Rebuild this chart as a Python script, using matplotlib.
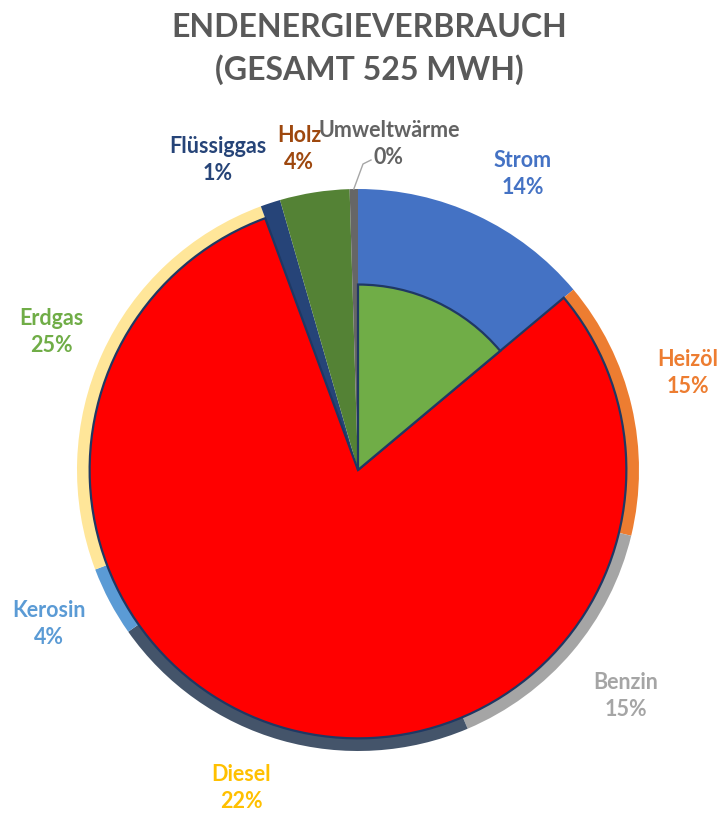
import numpy as np
import matplotlib.pyplot as plt

# Endenergieverbrauch in MWh (gesamt 525)
labels = ["Strom", "Heizöl", "Benzin", "Diesel", "Kerosin", "Erdgas",
          "Flüssiggas", "Holz", "Umweltwärme"]
values = [73, 78, 78, 113.5, 21, 132, 6, 21, 2.5]
sliceColors = ["#4472C4", "#ED7D31", "#A5A5A5", "#44546A", "#5B9BD5",
               "#FFE699", "#264478", "#548235", "#666666"]
labelColors = ["#4472C4", "#ED7D31", "#A5A5A5", "#FFC000", "#5B9BD5",
               "#70AD47", "#264478", "#9E480E", "#636363"]

# label anchor points in pixel coords (x, y from top)
labelPos = [(523, 174), (688, 373), (626, 696), (241, 788), (49, 624),
            (51, 332), (218, 160), (299, 149), (389, 144)]

W, H = 722, 813
cx, cy = 358, H - 470
R = 281

plt.rcParams['font.family'] = ['Lato', 'DejaVu Sans']

fig = plt.figure(figsize=(W / 100, H / 100), dpi=100)
ax = fig.add_axes([0, 0, 1, 1])

total = sum(values)

# outer pie
ax.pie(values, colors=sliceColors, startangle=90, counterclock=False,
       radius=R, center=(cx, cy), frame=True,
       wedgeprops=dict(linewidth=0))

# overlay: red wedge covering Heizöl..Erdgas
redPart = [values[0], sum(values[1:6]), sum(values[6:])]
wedges, _ = ax.pie(redPart, colors=["none", "#FF0000", "none"], startangle=90,
                   counterclock=False, radius=R * 0.955, center=(cx, cy), frame=True,
                   wedgeprops=dict(linewidth=1.6, edgecolor="#1F3864"))
wedges[0].set_visible(False)
wedges[2].set_visible(False)

# overlay: green wedge inside Strom
greenPart = [values[0], total - values[0]]
wedges, _ = ax.pie(greenPart, colors=["#70AD47", "none"], startangle=90,
                   counterclock=False, radius=R * 0.66, center=(cx, cy), frame=True,
                   wedgeprops=dict(linewidth=1.6, edgecolor="#1F3864"))
wedges[1].set_visible(False)

ax.set_xlim(0, W)
ax.set_ylim(0, H)
ax.set_aspect('equal')
ax.axis('off')

# data labels
for name, val, col, (px, py) in zip(labels, values, labelColors, labelPos):
    pct = "{:.0f}%".format(100 * val / total)
    ax.text(px, H - py, name + "\n" + pct, color=col, fontsize=15.5,
            fontweight='bold', ha='center', va='center', linespacing=1.3)

# leader line for Umweltwärme
ang = np.deg2rad(90 - 360 * (total - values[-1] / 2) / total)
x0, y0 = cx + R * np.cos(ang), cy + R * np.sin(ang)
ax.plot([x0, 363, 371], [y0, H - 164, H - 160], color="#A6A6A6", lw=1)

ax.text(W / 2 + 8, H - 49, "ENDENERGIEVERBRAUCH\n(GESAMT 525 MWH)", color="#595959",
        fontsize=23, fontweight='bold', ha='center', va='center', linespacing=1.5)

fig.savefig("out.png", dpi=100)
